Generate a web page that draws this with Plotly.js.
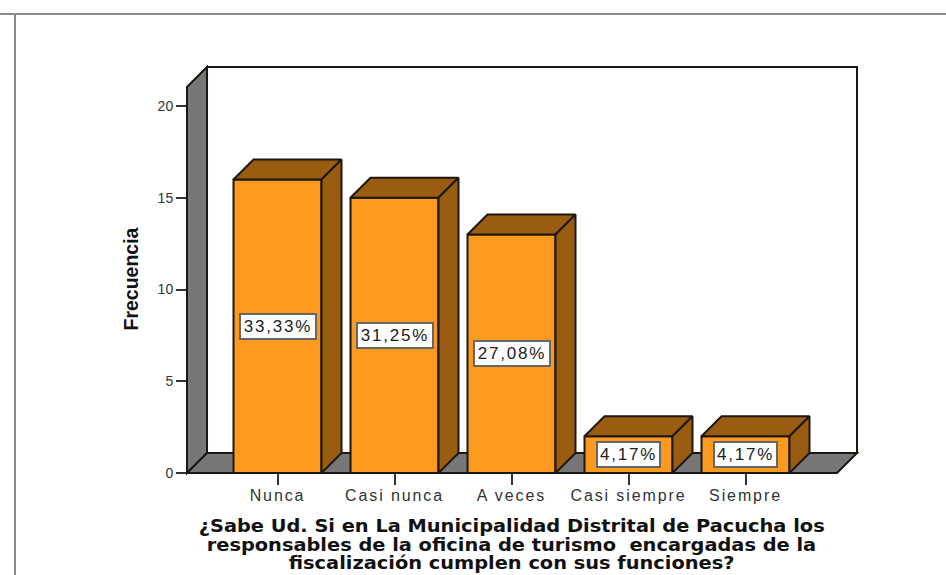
<!DOCTYPE html>
<html><head><meta charset="utf-8">
<script src="https://cdn.plot.ly/plotly-3.0.0.min.js"></script>
<style>
html,body{margin:0;padding:0;background:#fff;overflow:hidden}
#plot{width:946px;height:575px}
#plot .xtick text{letter-spacing:1.9px}
#plot .annotation[data-index="0"] text,#plot .annotation[data-index="1"] text,#plot .annotation[data-index="2"] text,#plot .annotation[data-index="3"] text,#plot .annotation[data-index="4"] text{letter-spacing:1.8px}
#plot .annotation[data-index="5"] text,#plot .annotation[data-index="6"] text,#plot .annotation[data-index="7"] text{transform-box:fill-box;transform-origin:center;transform:scaleX(1.14)}
</style></head><body><div id="plot"></div>
<script>
const categories = ["Nunca","Casi nunca","A veces","Casi siempre","Siempre"];
const frequencies = [16,15,13,2,2];
const percentLabels = ["33,33%","31,25%","27,08%","4,17%","4,17%"];
const yTicks = [0,5,10,15,20];
const xTitleLines = ["¿Sabe Ud. Si en La Municipalidad Distrital de Pacucha los","responsables de la oficina de turismo  encargadas de la","fiscalización cumplen con sus funciones?"];
const yTitle = "Frecuencia";

const xMin=-0.7735, xMax=4.953, yMax=22.13, dx=0.171, dy=1.09, barW=0.752;
const ink="#1c1710", orange="#FB9A1E", brown="#995C11", wallGray="#777777";
const idx = categories.map((_,i)=>i);
const px=x=>(x-xMin)/(xMax-xMin), py=y=>y/yMax;

function poly(xs,ys,fill){
  return {type:"path",xref:"paper",yref:"paper",layer:"below",
    path:"M"+xs.map((x,i)=>px(x)+","+py(ys[i])).join("L")+"Z",
    fillcolor:fill,line:{color:ink,width:2}};
}
const wallL=xMin, wallR=xMax-dx, wallTop=yMax-dy;
const shapes=[
  poly([wallL+dx,xMax,xMax,wallL+dx],[dy,dy,yMax,yMax],"#ffffff"),
  poly([wallL,wallL,wallL+dx,wallL+dx],[0,wallTop,yMax,dy],wallGray),
  poly([wallL,wallR,xMax,wallL+dx],[0,0,dy,dy],wallGray),
  {type:"line",xref:"paper",yref:"paper",x0:-187/670,x1:759/670,y0:(473-14)/406,y1:(473-14)/406,line:{color:"#8a8a8a",width:2}},
  {type:"line",xref:"paper",yref:"paper",x0:-172/670,x1:-172/670,y0:(473-14)/406,y1:-102/406,line:{color:"#8a8a8a",width:2}}
];

const front={type:"bar",x:idx,y:frequencies,width:barW,cliponaxis:false,marker:{color:orange,line:{color:ink,width:2}},hoverinfo:"skip",showlegend:false};
const tops={type:"scatter",mode:"lines",fill:"toself",cliponaxis:false,fillcolor:brown,line:{color:ink,width:2},hoverinfo:"skip",showlegend:false,x:[],y:[]};
const sides={type:"scatter",mode:"lines",fill:"toself",cliponaxis:false,fillcolor:brown,line:{color:ink,width:2},hoverinfo:"skip",showlegend:false,x:[],y:[]};
idx.forEach(i=>{
  const l=i-barW/2,r=i+barW/2,v=frequencies[i];
  tops.x.push(l,r,r+dx,l+dx,l,null); tops.y.push(v,v,v+dy,v+dy,v,null);
  sides.x.push(r,r+dx,r+dx,r,r,null); sides.y.push(v,v+dy,dy,0,v,null);
});

const annotations=idx.map(i=>({x:i,y:frequencies[i]/2,xref:"x",yref:"y",text:percentLabels[i],showarrow:false,
  width:percentLabels[i].length>5?70:57,height:19,
  font:{family:"Liberation Sans, Arial, sans-serif",size:17,color:"#222"},bgcolor:"#fff",bordercolor:"#666",borderwidth:2,borderpad:2}));
const titleY=[526,545,563];
xTitleLines.forEach((t,i)=>annotations.push({xref:"paper",yref:"paper",x:(511-187)/670,y:(473-titleY[i])/406,text:"<b>"+t+"</b>",showarrow:false,xanchor:"center",yanchor:"middle",
  font:{family:"DejaVu Sans",size:17,color:"#111"}}));
annotations.push({xref:"paper",yref:"paper",x:(130.5-187)/670,y:(473-279)/406,text:"<b>"+yTitle+"</b>",showarrow:false,textangle:-90,xanchor:"center",yanchor:"middle",
  font:{family:"Liberation Sans, sans-serif",size:19.5,color:"#111"}});

Plotly.newPlot("plot",[front,tops,sides],{
  width:946,height:575,margin:{l:187,r:89,t:67,b:102,pad:0},paper_bgcolor:"#fff",plot_bgcolor:"rgba(0,0,0,0)",showlegend:false,
  xaxis:{range:[xMin,xMax],tickmode:"array",tickvals:idx,ticktext:categories,ticks:"outside",ticklen:11,tickwidth:2,tickcolor:"#333",ticklabelstandoff:-3,showgrid:false,zeroline:false,showline:false,
    tickfont:{family:"Liberation Sans, Arial, sans-serif",size:16,color:"#333"}},
  yaxis:{range:[0,yMax],tickmode:"array",tickvals:yTicks,ticks:"outside",ticklen:10,tickwidth:2,tickcolor:"#333",showgrid:false,zeroline:false,showline:false,
    tickfont:{family:"Liberation Sans, Arial, sans-serif",size:14,color:"#333"}},
  shapes,annotations
},{displayModeBar:false,staticPlot:true});
</script></body></html>
